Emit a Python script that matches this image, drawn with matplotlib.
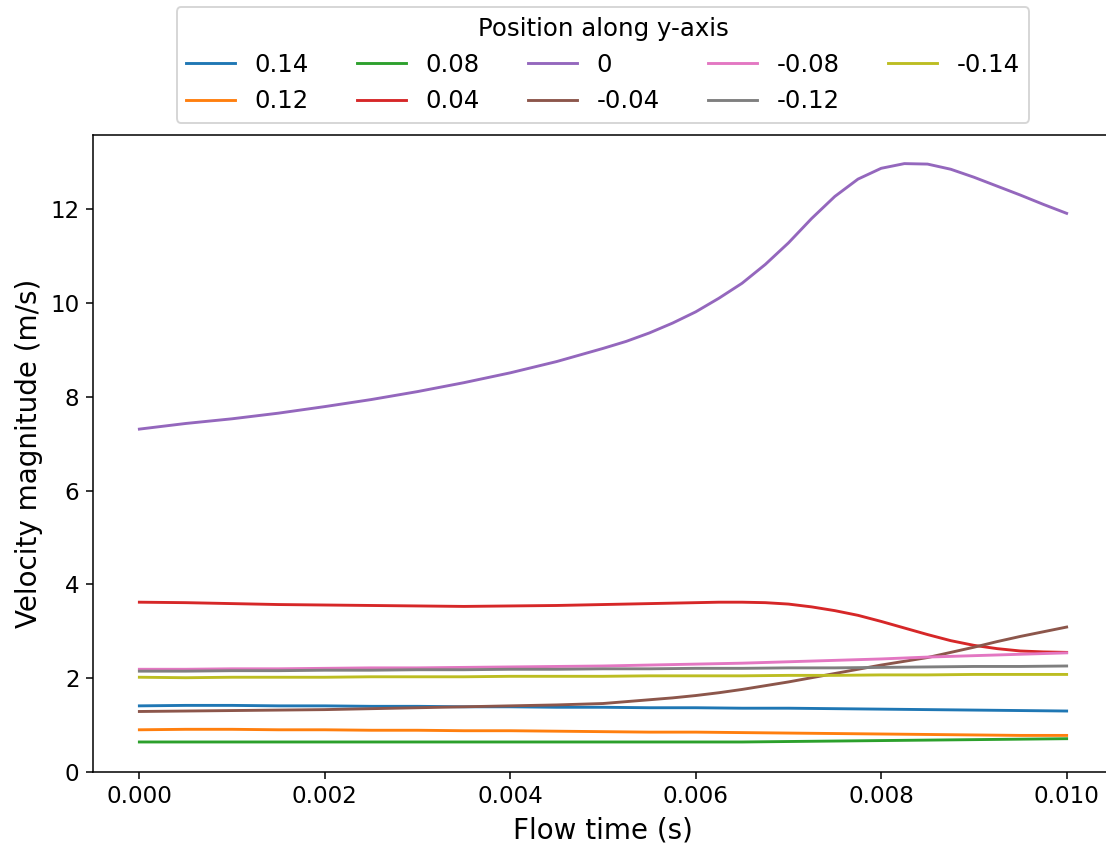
import numpy as np
import matplotlib
matplotlib.use("Agg")
import matplotlib.pyplot as plt

# flow time (s)
t = [0.0, 0.0005, 0.001, 0.0015, 0.002, 0.0025, 0.003, 0.0035, 0.004, 0.0045,
     0.005, 0.0055, 0.006, 0.0065, 0.007, 0.0075, 0.008, 0.0085, 0.009, 0.0095, 0.010]
# denser sampling where the curves bend
t_fine = [0.0, 0.0005, 0.001, 0.0015, 0.002, 0.0025, 0.003, 0.0035, 0.004, 0.0045,
          0.005, 0.00525, 0.0055, 0.00575, 0.006, 0.00625, 0.0065, 0.00675, 0.007,
          0.00725, 0.0075, 0.00775, 0.008, 0.00825, 0.0085, 0.00875, 0.009,
          0.00925, 0.0095, 0.00975, 0.010]

positions = ['0.14', '0.12', '0.08', '0.04', '0', '-0.04', '-0.08', '-0.12', '-0.14']

v_014 = [1.41, 1.42, 1.42, 1.41, 1.41, 1.40, 1.40, 1.39, 1.39, 1.38, 1.38,
         1.37, 1.37, 1.36, 1.36, 1.35, 1.34, 1.33, 1.32, 1.31, 1.30]
v_012 = [0.90, 0.91, 0.91, 0.90, 0.90, 0.89, 0.89, 0.88, 0.88, 0.87, 0.86,
         0.85, 0.85, 0.84, 0.83, 0.82, 0.81, 0.80, 0.79, 0.78, 0.78]
v_008 = [0.64, 0.64, 0.64, 0.64, 0.64, 0.64, 0.64, 0.64, 0.64, 0.64, 0.64,
         0.64, 0.64, 0.64, 0.65, 0.66, 0.67, 0.68, 0.69, 0.70, 0.71]
v_004 = [3.62, 3.61, 3.59, 3.57, 3.56, 3.55, 3.54, 3.53, 3.54, 3.55, 3.57,
         3.58, 3.59, 3.60, 3.61, 3.62, 3.62, 3.61, 3.58, 3.52, 3.44, 3.34,
         3.21, 3.07, 2.93, 2.80, 2.70, 2.63, 2.58, 2.56, 2.55]
v_0 = [7.31, 7.43, 7.53, 7.65, 7.79, 7.94, 8.11, 8.30, 8.51, 8.75, 9.03,
       9.18, 9.36, 9.57, 9.81, 10.10, 10.42, 10.82, 11.28, 11.80, 12.27, 12.64,
       12.87, 12.97, 12.96, 12.85, 12.68, 12.49, 12.30, 12.10, 11.91]
v_m004 = [1.29, 1.30, 1.31, 1.32, 1.33, 1.35, 1.37, 1.39, 1.41, 1.43, 1.46,
          1.50, 1.54, 1.58, 1.63, 1.69, 1.76, 1.84, 1.92, 2.01, 2.10, 2.19,
          2.28, 2.36, 2.44, 2.55, 2.66, 2.78, 2.89, 2.99, 3.09]
v_m008 = [2.19, 2.19, 2.20, 2.20, 2.21, 2.22, 2.22, 2.23, 2.24, 2.25, 2.26,
          2.28, 2.30, 2.32, 2.35, 2.38, 2.41, 2.45, 2.48, 2.51, 2.54]
v_m012 = [2.15, 2.15, 2.16, 2.16, 2.17, 2.17, 2.18, 2.18, 2.19, 2.19, 2.20,
          2.20, 2.21, 2.21, 2.22, 2.22, 2.23, 2.24, 2.25, 2.25, 2.26]
v_m014 = [2.02, 2.01, 2.02, 2.02, 2.02, 2.03, 2.03, 2.03, 2.04, 2.04, 2.04,
          2.05, 2.05, 2.05, 2.06, 2.06, 2.07, 2.07, 2.08, 2.08, 2.08]

series = [(t, v_014), (t, v_012), (t, v_008), (t_fine, v_004), (t_fine, v_0),
          (t_fine, v_m004), (t, v_m008), (t, v_m012), (t, v_m014)]

dpi = 138
fig = plt.figure(figsize=(1106 / dpi, 843 / dpi), dpi=dpi)
ax = fig.add_axes([93 / 1106, 71 / 843, 1020 / 1106, 637 / 843])

for lab, (tt, vals) in zip(positions, series):
    ax.plot(tt, vals, label=lab)

ax.set_xlim(-0.0005, 0.0105)
ax.set_ylim(0, 13.58)
ax.set_xticks([0.0, 0.002, 0.004, 0.006, 0.008, 0.010])
ax.set_xticklabels(['0.000', '0.002', '0.004', '0.006', '0.008', '0.010'])
ax.tick_params(labelsize=12)
ax.set_xlabel('Flow time (s)', fontsize=14.5)
ax.set_ylabel('Velocity magnitude (m/s)', fontsize=14.5)

ax.legend(title='Position along y-axis', ncol=5, fontsize=12.7, title_fontsize=12.7,
          loc='lower center', bbox_to_anchor=(0.5, 1.0))

fig.savefig('out.png', dpi=dpi)
